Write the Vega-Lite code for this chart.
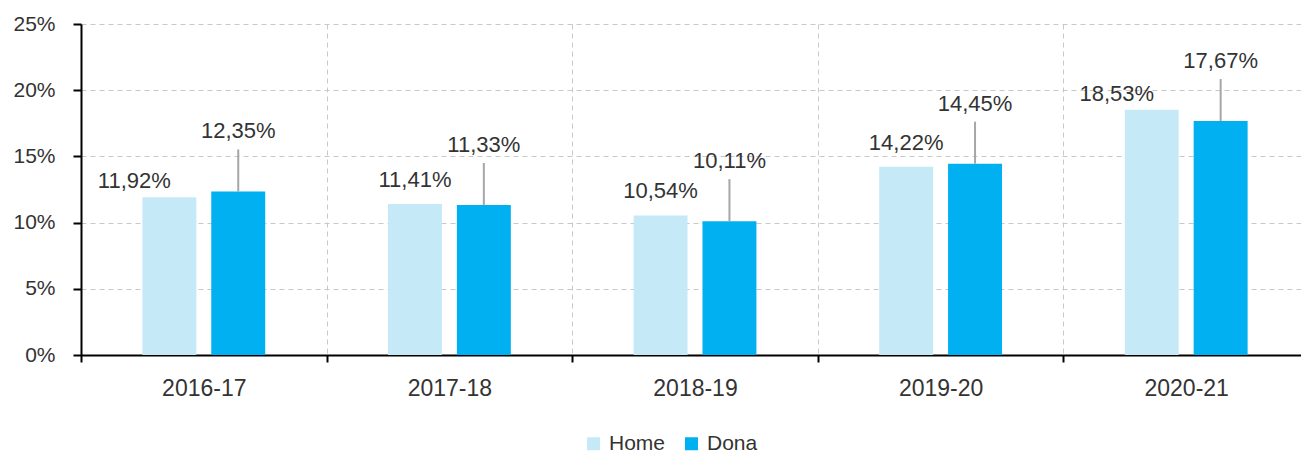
{
  "$schema": "https://vega.github.io/schema/vega-lite/v6.json",
  "width": 1228,
  "height": 331,
  "autosize": "none",
  "padding": {"left": 81, "top": 24, "right": 0, "bottom": 98},
  "config": {
    "locale": {"number": {"decimal": ",", "thousands": ".", "grouping": [3], "currency": ["", " €"]}},
    "view": {"stroke": null},
    "font": "Liberation Sans",
    "text": {"font": "Liberation Sans", "fontSize": 22, "fill": "#333333"}
  },
  "data": {
    "values": [
      {"curs": "2016-17", "sexe": "Home", "valor": 0.1192},
      {"curs": "2016-17", "sexe": "Dona", "valor": 0.1235},
      {"curs": "2017-18", "sexe": "Home", "valor": 0.1141},
      {"curs": "2017-18", "sexe": "Dona", "valor": 0.1133},
      {"curs": "2018-19", "sexe": "Home", "valor": 0.1054},
      {"curs": "2018-19", "sexe": "Dona", "valor": 0.1011},
      {"curs": "2019-20", "sexe": "Home", "valor": 0.1422},
      {"curs": "2019-20", "sexe": "Dona", "valor": 0.1445},
      {"curs": "2020-21", "sexe": "Home", "valor": 0.1853},
      {"curs": "2020-21", "sexe": "Dona", "valor": 0.1767}
    ]
  },
  "encoding": {
    "x": {
      "field": "curs",
      "type": "nominal",
      "title": null,
      "scale": {"paddingInner": 0, "paddingOuter": 0},
      "axis": {
        "tickBand": "extent",
        "labelAngle": 0,
        "labelFont": "Liberation Sans",
        "labelFontSize": 23,
        "labelColor": "#333333",
        "labelPadding": 15,
        "domainColor": "#000000",
        "domainWidth": 2,
        "tickColor": "#000000",
        "tickWidth": 2,
        "tickSize": 7,
        "grid": true,
        "gridColor": "#c8c8c8",
        "gridDash": [5, 4],
        "gridWidth": 1
      }
    },
    "xOffset": {
      "field": "sexe",
      "sort": ["Home", "Dona"],
      "scale": {"paddingInner": 0.217, "paddingOuter": 0.891}
    },
    "y": {
      "field": "valor",
      "type": "quantitative",
      "title": null,
      "scale": {"domain": [0, 0.25], "nice": false},
      "axis": {
        "values": [0, 0.05, 0.1, 0.15, 0.2, 0.25],
        "format": ".0%",
        "labelFont": "Liberation Sans",
        "labelFontSize": 21,
        "labelColor": "#333333",
        "labelPadding": 18,
        "domainColor": "#000000",
        "domainWidth": 2,
        "tickColor": "#000000",
        "tickWidth": 2,
        "tickSize": 8,
        "grid": true,
        "gridColor": "#c8c8c8",
        "gridDash": [5, 4],
        "gridWidth": 1
      }
    }
  },
  "layer": [
    {
      "mark": {"type": "bar"},
      "encoding": {
        "color": {
          "field": "sexe",
          "type": "nominal",
          "sort": ["Home", "Dona"],
          "scale": {"domain": ["Home", "Dona"], "range": ["#C6E9F8", "#00B0F0"]},
          "legend": {
            "title": null,
            "orient": "none",
            "direction": "horizontal",
            "legendX": 502,
            "legendY": 409,
            "symbolType": "square",
            "symbolSize": 169,
            "symbolStrokeWidth": 0,
            "labelFont": "Liberation Sans",
            "labelFontSize": 21,
            "labelColor": "#333333",
            "labelOffset": 5,
            "columnPadding": 15
          }
        }
      }
    },
    {
      "transform": [{"filter": "datum.sexe == 'Dona'"}],
      "mark": {"type": "rule", "color": "#a6a6a6", "strokeWidth": 2, "y2Offset": -42},
      "encoding": {"y2": {"field": "valor"}}
    },
    {
      "transform": [{"filter": "datum.sexe == 'Dona'"}],
      "mark": {"type": "text", "align": "center", "baseline": "alphabetic", "dy": -53},
      "encoding": {"text": {"field": "valor", "type": "quantitative", "format": ".2%"}}
    },
    {
      "transform": [{"filter": "datum.sexe == 'Home' && datum.curs != '2016-17' && datum.curs != '2020-21'"}],
      "mark": {"type": "text", "align": "center", "baseline": "alphabetic", "dy": -17},
      "encoding": {"text": {"field": "valor", "type": "quantitative", "format": ".2%"}}
    },
    {
      "transform": [{"filter": "datum.sexe == 'Home' && (datum.curs == '2016-17' || datum.curs == '2020-21')"}],
      "mark": {"type": "text", "align": "center", "baseline": "alphabetic", "dx": -35, "dy": -9},
      "encoding": {"text": {"field": "valor", "type": "quantitative", "format": ".2%"}}
    }
  ]
}
